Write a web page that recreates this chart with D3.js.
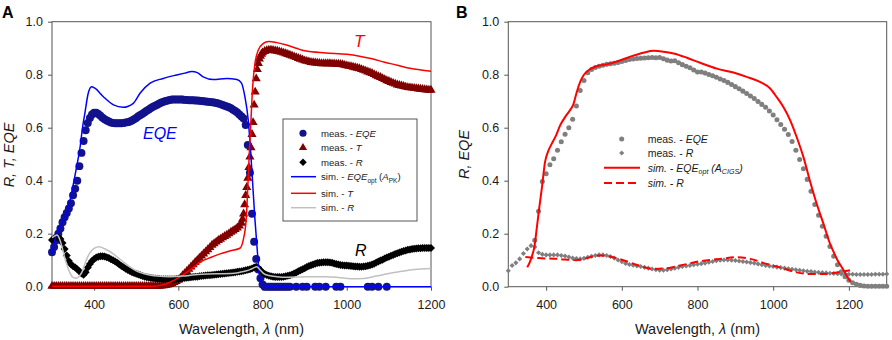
<!DOCTYPE html>
<html><head><meta charset="utf-8">
<script src="https://cdn.jsdelivr.net/npm/d3@7"></script>
<style>body{margin:0;background:#fff}svg{display:block}</style>
</head><body><svg id="c" width="892" height="340"></svg>
<script>
// ---------------- DATA ----------------
// Panel A : measured series on a 5 nm grid from 300 to 1200 nm
const aGridStart = 300, aGridStep = 5;
const aMeasEQE = [
0.13,0.15,0.175,0.2,0.22,0.243,0.262,0.278,0.295,0.315,
0.345,0.37,0.4,0.455,0.505,0.55,0.59,0.618,0.637,0.65,
0.656,0.656,0.652,0.645,0.638,0.632,0.627,0.623,0.62,0.618,
0.617,0.617,0.617,0.617,0.618,0.62,0.621,0.623,0.627,0.632,
0.637,0.643,0.648,0.653,0.658,0.664,0.669,0.674,0.679,0.683,
0.687,0.691,0.695,0.698,0.701,0.703,0.705,0.706,0.706,0.706,
0.706,0.706,0.706,0.705,0.705,0.704,0.704,0.704,0.703,0.703,
0.702,0.701,0.7,0.699,0.698,0.697,0.696,0.695,0.693,0.691,
0.689,0.686,0.683,0.68,0.677,0.673,0.668,0.663,0.657,0.65,
0.642,0.635,0.61,0.535,0.43,0.275,0.17,0.105,0.065,0.032,
0.008,0,0,0,0,0,0,0,0,0,
0,0,0,0,null,null,0,null,null,0,
null,0,null,null,null,0,null,0,null,null,
0,null,null,null,null,0,null,0,null,null,
null,null,null,null,null,null,null,null,null,null,
0,null,0,null,null,0,null,null,null,0,
null,null,null,null,null,null,null,null,null,null,
null,null,null,null,null,null,null,null,null,null,
null];
const aMeasT = [
0.002,0.002,0.002,0.002,0.002,0.002,0.002,0.002,0.002,0.002,
0.002,0.002,0.002,0.002,0.002,0.002,0.002,0.002,0.002,0.002,
0.002,0.002,0.002,0.002,0.002,0.002,0.002,0.002,0.002,0.002,
0.002,0.002,0.002,0.002,0.002,0.002,0.002,0.002,0.002,0.002,
0.002,0.002,0.002,0.002,0.002,0.002,0.002,0.002,0.002,0.002,
0.002,0.002,0.003,0.004,0.005,0.007,0.009,0.012,0.016,0.02,
0.025,0.033,0.042,0.05,0.058,0.066,0.075,0.083,0.092,0.1,
0.108,0.116,0.124,0.132,0.14,0.148,0.157,0.163,0.169,0.175,
0.18,0.185,0.19,0.195,0.2,0.206,0.211,0.216,0.222,0.23,
0.24,0.275,0.345,0.41,0.49,0.575,0.686,0.785,0.843,0.87,
0.883,0.888,0.891,0.893,0.893,0.892,0.89,0.889,0.887,0.885,
0.882,0.88,0.877,0.874,0.871,0.868,0.865,0.862,0.859,0.856,
0.853,0.851,0.849,0.847,0.846,0.845,0.844,0.843,0.842,0.842,
0.842,0.842,0.842,0.841,0.841,0.84,0.84,0.839,0.838,0.836,
0.834,0.832,0.831,0.829,0.827,0.825,0.823,0.82,0.817,0.814,
0.811,0.808,0.805,0.801,0.797,0.793,0.79,0.786,0.782,0.778,
0.775,0.771,0.768,0.765,0.762,0.76,0.758,0.756,0.754,0.752,
0.751,0.75,0.749,0.748,0.747,0.746,0.745,0.744,0.743,0.742,
0.742];
// extra measured T points in the steep rise (half steps)
const aMeasTRiseWl = [752.5,757.5,762.5,767.5,772.5,777.5,782.5,787.5,792.5,797.5];
const aMeasTRise   = [0.255,0.31,0.375,0.45,0.525,0.62,0.735,0.82,0.86,0.878];
const aMeasR = [
0.176,0.183,0.188,0.186,0.18,0.165,0.142,0.118,0.097,0.085,
0.077,0.072,0.066,0.058,0.05,0.045,0.055,0.072,0.086,0.097,
0.105,0.11,0.113,0.115,0.115,0.114,0.111,0.108,0.104,0.1,
0.095,0.09,0.084,0.078,0.073,0.068,0.063,0.059,0.055,0.052,
0.049,0.046,0.043,0.04,0.038,0.036,0.035,0.033,0.032,0.031,
0.03,0.029,0.028,0.028,0.028,0.028,0.028,0.028,0.028,0.029,
0.03,0.031,0.032,0.033,0.034,0.035,0.036,0.037,0.038,0.038,
0.039,0.04,0.041,0.042,0.043,0.043,0.044,0.045,0.046,0.047,
0.048,0.049,0.05,0.051,0.052,0.053,0.054,0.055,0.056,0.057,
0.058,0.06,0.062,0.064,0.066,0.069,0.072,0.075,0.07,0.062,
0.054,0.048,0.044,0.041,0.039,0.038,0.037,0.037,0.037,0.037,
0.038,0.039,0.041,0.043,0.046,0.05,0.054,0.058,0.062,0.066,
0.07,0.074,0.078,0.081,0.084,0.087,0.089,0.09,0.091,0.092,
0.092,0.092,0.091,0.09,0.088,0.086,0.084,0.082,0.081,0.08,
0.08,0.079,0.078,0.077,0.076,0.076,0.075,0.075,0.076,0.077,
0.079,0.081,0.084,0.087,0.091,0.095,0.099,0.102,0.106,0.11,
0.113,0.117,0.12,0.123,0.126,0.129,0.132,0.135,0.137,0.139,
0.14,0.142,0.143,0.144,0.145,0.145,0.146,0.146,0.146,0.146,
0.146];
// Panel A : simulated curves
const aSimEQEWl = [300,310,320,335,345,351,360,367,372,378,386,394,402,422,446,469,493,509,533,564,596,615,632,645,659,683,715,739,750,758,766,772,777,782,788,792,798,805,815,1200];
const aSimEQE   = [0.126,0.195,0.228,0.277,0.34,0.39,0.465,0.53,0.595,0.654,0.73,0.755,0.749,0.717,0.686,0.677,0.692,0.73,0.768,0.786,0.799,0.806,0.812,0.808,0.792,0.782,0.786,0.782,0.768,0.717,0.629,0.503,0.377,0.252,0.126,0.05,0.013,0.003,0,0];
const aSimTWl = [300,540,560,580,600,620,640,651,680,699,720,746,754,761,765,768.5,772.5,776.5,782,790,802,814,834,857,880,900,950,1000,1030,1060,1090,1120,1150,1180,1200];
const aSimT   = [0.002,0.002,0.006,0.017,0.033,0.054,0.078,0.092,0.112,0.124,0.134,0.145,0.176,0.252,0.377,0.503,0.629,0.755,0.843,0.893,0.918,0.925,0.921,0.912,0.9,0.89,0.882,0.877,0.87,0.86,0.847,0.836,0.824,0.817,0.813];
const aSimRWl = [300,305,312,318,323,330,337,343,350,358,365,372,380,390,400,412,425,440,455,470,485,500,517,535,550,580,610,640,670,700,725,745,762,775,786,795,802,815,834,860,890,920,950,980,1010,1040,1070,1100,1130,1160,1200];
const aSimR   = [0.185,0.19,0.195,0.18,0.155,0.11,0.075,0.05,0.035,0.032,0.04,0.058,0.095,0.128,0.145,0.151,0.143,0.13,0.112,0.093,0.075,0.06,0.05,0.043,0.04,0.038,0.04,0.045,0.048,0.049,0.05,0.054,0.06,0.068,0.075,0.062,0.05,0.042,0.038,0.036,0.037,0.038,0.038,0.035,0.03,0.031,0.04,0.05,0.058,0.065,0.069];

// Panel B : measured on a 10 nm grid
const bGridStep = 10;
const bMeasEQEStart = 370;
const bMeasEQE = [
0.175,0.285,0.397,0.426,0.46,0.483,0.515,0.547,0.575,0.6,
0.632,0.682,0.74,0.778,0.807,0.82,0.827,0.832,0.836,0.839,
0.841,0.843,0.846,0.85,0.854,0.857,0.859,0.861,0.862,0.863,
0.864,0.865,0.864,0.865,0.86,0.855,0.852,0.853,0.845,0.838,
0.832,0.826,0.818,0.81,0.81,0.806,0.801,0.796,0.79,0.784,
0.778,0.771,0.763,0.755,0.747,0.738,0.729,0.72,0.71,0.699,
0.688,0.677,0.663,0.648,0.63,0.612,0.594,0.574,0.548,0.515,
0.48,0.445,0.405,0.36,0.31,0.27,0.228,0.19,0.152,0.115,
0.083,0.056,0.038,0.024,0.015,0.009,0.005,0.003,0.002,0.002,
0.002,0.002,0.002,0.002];
const bMeasRStart = 300;
const bMeasR = [
0.06,0.08,0.09,0.105,0.125,0.142,0.155,0.15,0.128,0.122,
0.12,0.12,0.12,0.12,0.118,0.116,0.112,0.108,0.106,0.105,
0.107,0.111,0.115,0.118,0.12,0.12,0.118,0.114,0.108,0.101,
0.094,0.088,0.084,0.081,0.078,0.076,0.073,0.07,0.067,0.064,
0.062,0.062,0.064,0.067,0.07,0.073,0.076,0.078,0.08,0.083,
0.085,0.087,0.089,0.092,0.095,0.098,0.1,0.101,0.101,0.1,
0.099,0.097,0.095,0.093,0.091,0.089,0.086,0.083,0.08,0.078,
0.076,0.074,0.072,0.07,0.068,0.066,0.064,0.062,0.06,0.058,
0.057,0.055,0.054,0.053,0.052,0.051,0.05,0.049,0.048,0.048,
0.047,0.047,0.046,0.046,0.046,0.046,0.046,0.047,0.047,0.047,
0.048];
const bSimEQEWl = [350,356,362,369,376,382,389,397,405,415,425,437,450,463,472,481,490,499,512,534,560,587,622,657,684,710,737,772,807,851,895,930,965,992,1009,1027,1045,1062,1080,1097,1115,1133,1150,1160,1170,1185,1200,1205];
const bSimEQE   = [0.073,0.09,0.113,0.151,0.23,0.3,0.376,0.47,0.51,0.54,0.567,0.609,0.64,0.666,0.688,0.735,0.773,0.798,0.817,0.832,0.839,0.85,0.868,0.883,0.89,0.887,0.88,0.864,0.845,0.823,0.808,0.792,0.773,0.748,0.716,0.678,0.628,0.565,0.489,0.4,0.313,0.237,0.163,0.13,0.1,0.065,0.028,0.018];
const bSimRWl = [345,380,430,480,500,520,545,570,604,640,684,720,754,807,860,904,939,983,1018,1062,1097,1133,1168,1203];
const bSimR   = [0.112,0.108,0.105,0.1,0.105,0.113,0.118,0.113,0.1,0.082,0.067,0.07,0.08,0.096,0.105,0.111,0.105,0.086,0.073,0.054,0.048,0.048,0.054,0.062];

// ticks
const aXTicks = [400,600,800,1000,1200];
const bXTicks = [400,600,800,1000,1200];
const yTicks = [0,0.2,0.4,0.6,0.8,1.0];

// ---------------- DRAWING ----------------
const FONT = 'Arial, "Liberation Sans", sans-serif';
const svg = d3.select('#c').attr('font-family', FONT);
const TOP = 21.7, BOT = 286.7;
const y = d3.scaleLinear().domain([0,1]).range([BOT, TOP]);
const xA = d3.scaleLinear().domain([300,1200]).range([52,431]);
const xB = d3.scaleLinear().domain([300,1300]).range([508.3,886.7]);

const grid = (start, step, vals) => vals.map((v,i)=>({w:start+i*step, v})).filter(d=>d.v!==null);
const pairs = (wl, vals) => wl.map((w,i)=>({w, v:vals[i]}));

function axes(x, xTicks) {
  const g = svg.append('g');
  const ax = g.append('g').attr('transform',`translate(0,${BOT})`)
    .call(d3.axisBottom(x).tickValues(xTicks).tickFormat(d3.format('d')).tickSize(4).tickPadding(9).tickSizeOuter(0));
  const ay = g.append('g').attr('transform',`translate(${x.range()[0]},0)`)
    .call(d3.axisLeft(y).tickValues(yTicks).tickFormat(d3.format('.1f')).tickSize(4).tickPadding(5).tickSizeOuter(0));
  [ax, ay].forEach(a=>{
    a.select('.domain').remove();
    a.selectAll('line').attr('stroke','#555');
    a.selectAll('text').attr('font-size',12.5).attr('fill','#1a1a1a').attr('font-family',FONT);
  });
  g.append('rect').attr('x',x.range()[0]).attr('y',TOP)
    .attr('width',x.range()[1]-x.range()[0]).attr('height',BOT-TOP)
    .attr('fill','none').attr('stroke','#555').attr('stroke-width',1);
}

function markers(x, data, type, size, color, rot) {
  const sym = d3.symbol().type(type).size(size);
  svg.append('g').selectAll('path').data(data).join('path')
    .attr('d', sym)
    .attr('transform', d=>`translate(${x(d.w)},${y(d.v)})${rot?' rotate(45)':''}`)
    .attr('fill', color);
}
function line(x, data, color, width, dash) {
  svg.append('path').datum(data)
    .attr('d', d3.line().x(d=>x(d.w)).y(d=>y(d.v)).curve(d3.curveMonotoneX))
    .attr('fill','none').attr('stroke',color).attr('stroke-width',width)
    .attr('stroke-dasharray', dash||null);
}

// text helper: segments [text, italic, sub]
function richText(xp, yp, segs, size, color, anchor) {
  const t = svg.append('text').attr('x',xp).attr('y',yp).attr('font-size',size)
    .attr('fill',color||'#1a1a1a').attr('text-anchor',anchor||'start');
  let shifted = false;
  segs.forEach(s=>{
    const ts = t.append('tspan').text(s[0]);
    if (s[1]) ts.attr('font-style','italic');
    if (s[2] && !shifted) { ts.attr('font-size', size*0.68).attr('dy', size*0.28); shifted = true; }
    else if (!s[2] && shifted) { ts.attr('dy', -size*0.28); shifted = false; }
    else if (s[2]) ts.attr('font-size', size*0.68);
  });
  return t;
}

// ----- Panel A -----
axes(xA, aXTicks);
markers(xA, grid(aGridStart,aGridStep,aMeasEQE), d3.symbolCircle, 50, '#12128c');
markers(xA, grid(aGridStart,aGridStep,aMeasT).concat(pairs(aMeasTRiseWl,aMeasTRise)), d3.symbolTriangle, 36, '#800000');
markers(xA, grid(aGridStart,aGridStep,aMeasR), d3.symbolSquare, 32, '#000000', true);
line(xA, pairs(aSimEQEWl,aSimEQE), '#0000ff', 1.5);
line(xA, pairs(aSimTWl,aSimT), '#ff0000', 1.5);
line(xA, pairs(aSimRWl,aSimR), '#c0c0c0', 1.5);

richText(143, 139, [['EQE',true]], 16, '#0000ff');
richText(354, 47, [['T',true]], 17, '#ff0000');
richText(355, 256, [['R',true]], 16, '#000000');

// legend A
svg.append('rect').attr('x',283).attr('y',119).attr('width',134).attr('height',102)
  .attr('fill','#fff').attr('stroke','#555').attr('stroke-width',1);
const legA = [
  {sym:d3.symbolCircle, size:40, color:'#12128c', segs:[['meas. - '],['EQE',true]]},
  {sym:d3.symbolTriangle, size:30, color:'#800000', segs:[['meas. - '],['T',true]]},
  {sym:d3.symbolSquare, size:28, color:'#000', rot:true, segs:[['meas. - '],['R',true]]},
  {line:'#0000ff', segs:[['sim. - '],['EQE',true],['opt',false,true],[' ('],['A',true],['PK',false,true],[')']]},
  {line:'#ff0000', segs:[['sim. - '],['T',true]]},
  {line:'#c0c0c0', segs:[['sim. - '],['R',true]]}
];
const legAy = [133.3,147.7,162.3,176.7,193.3,207.7];
legA.forEach((e,i)=>{
  const yy = legAy[i];
  if (e.sym) {
    svg.append('path').attr('d', d3.symbol().type(e.sym).size(e.size)())
      .attr('transform',`translate(303,${yy})${e.rot?' rotate(45)':''}`).attr('fill',e.color);
  } else {
    svg.append('line').attr('x1',291).attr('x2',316).attr('y1',yy).attr('y2',yy)
      .attr('stroke',e.line).attr('stroke-width',1.5);
  }
  richText(321, yy+3.5, e.segs, 9.6, '#1a1a1a');
});

// panel A labels
svg.append('text').attr('x',2).attr('y',18).attr('font-size',16).attr('font-weight','bold').attr('fill','#000').text('A');
richText(241.5, 334, [['Wavelength, '],['λ',true],[' (nm)']], 14.5, '#1a1a1a', 'middle');
richText(0,0,[['R, T, EQE',true]],14.5,'#1a1a1a','middle').attr('transform','translate(14,155) rotate(-90)');

// ----- Panel B -----
axes(xB, bXTicks);
markers(xB, grid(bMeasEQEStart,bGridStep,bMeasEQE), d3.symbolCircle, 20, '#7f7f7f');
markers(xB, grid(bMeasRStart,bGridStep,bMeasR), d3.symbolSquare, 13, '#7f7f7f', true);
line(xB, pairs(bSimEQEWl,bSimEQE), '#ff0000', 2);
line(xB, pairs(bSimRWl,bSimR), '#ff0000', 2, '8,4');

const legB = [
  {sym:d3.symbolCircle, size:20, segs:[['meas. - '],['EQE',true]]},
  {sym:d3.symbolSquare, size:13, rot:true, segs:[['meas. - '],['R',true]]},
  {dash:null, segs:[['sim. - EQE',true],['opt',true,true],[' (A',true],['CIGS',true,true],[')',true]]},
  {dash:'8,4', segs:[['sim. - R',true]]}
];
const legBy = [139,153,167.7,183];
legB.forEach((e,i)=>{
  const yy = legBy[i];
  if (e.sym) {
    svg.append('path').attr('d', d3.symbol().type(e.sym).size(e.size)())
      .attr('transform',`translate(621.7,${yy})${e.rot?' rotate(45)':''}`).attr('fill','#7f7f7f');
  } else {
    svg.append('line').attr('x1',604).attr('x2',640).attr('y1',yy).attr('y2',yy)
      .attr('stroke','#ff0000').attr('stroke-width',2).attr('stroke-dasharray',e.dash);
  }
  richText(647.7, yy+3.8, e.segs, 10.5, '#1a1a1a');
});

svg.append('text').attr('x',456).attr('y',17.5).attr('font-size',16).attr('font-weight','bold').attr('fill','#000').text('B');
richText(697.5, 334, [['Wavelength, '],['λ',true],[' (nm)']], 14.5, '#1a1a1a', 'middle');
richText(0,0,[['R, EQE',true]],14.5,'#1a1a1a','middle').attr('transform','translate(469,154.5) rotate(-90)');
</script>
</body></html>
